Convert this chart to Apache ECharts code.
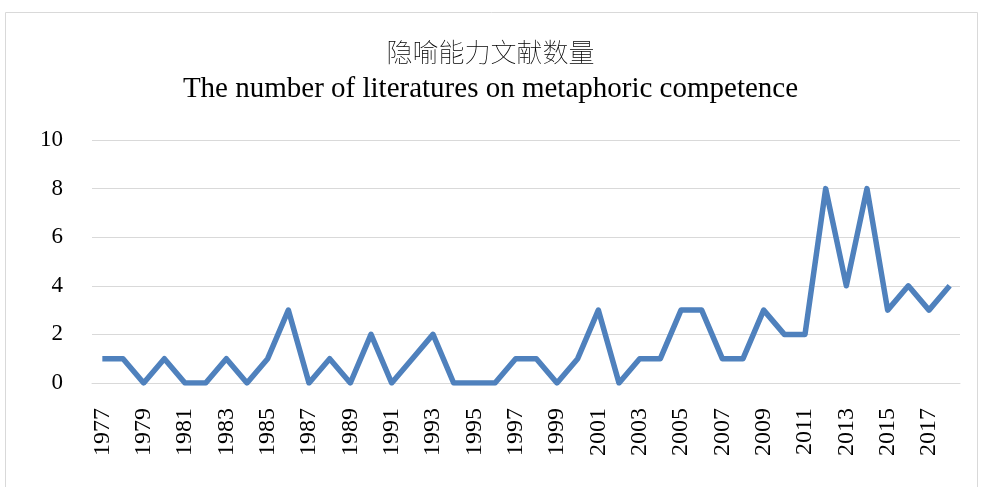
<!DOCTYPE html>
<html>
<head>
<meta charset="utf-8">
<script src="https://cdn.jsdelivr.net/npm/echarts@6/dist/echarts.min.js"></script>
<style>
  html, body { margin: 0; padding: 0; background: #fff; }
  #chart { width: 981px; height: 487px; }
</style>
</head>
<body>
<div id="chart"></div>
<script>
const years = [
    '1977', '1978', '1979', '1980', '1981', '1982', '1983', '1984', '1985', '1986',
    '1987', '1988', '1989', '1990', '1991', '1992', '1993', '1994', '1995', '1996',
    '1997', '1998', '1999', '2000', '2001', '2002', '2003', '2004', '2005', '2006',
    '2007', '2008', '2009', '2010', '2011', '2012', '2013', '2014', '2015', '2016',
    '2017', '2018'
];
const counts = [
    1, 1, 0, 1, 0, 0, 1, 0, 1, 3,
    0, 1, 0, 2, 0, 1, 2, 0, 0, 0,
    1, 1, 0, 1, 3, 0, 1, 1, 3, 3,
    1, 1, 3, 2, 2, 8, 4, 8, 3, 4,
    3, 4
];
const titleZh = '隐喻能力文献数量';
const titleEn = 'The number of literatures on metaphoric competence';

const serif = '"Liberation Serif", "Times New Roman", serif';

const chart = echarts.init(document.getElementById('chart'));

chart.setOption({
    animation: false,
    backgroundColor: '#fff',
    graphic: [
        {
            type: 'rect',
            shape: { x: 5.5, y: 12.5, width: 972, height: 500 },
            style: { fill: 'none', stroke: '#d9d9d9', lineWidth: 1 },
            silent: true,
        },
    ],
    title: [
        {
            text: titleZh,
            left: 'center',
            top: 34,
            textStyle: {
                fontFamily: '"Noto Sans CJK SC", sans-serif',
                fontWeight: 'lighter',
                fontSize: 26,
                color: '#000',
            },
        },
        {
            text: titleEn,
            left: 'center',
            top: 70,
            textStyle: {
                fontFamily: serif,
                fontWeight: 'normal',
                fontSize: 29,
                color: '#000',
            },
        },
    ],
    grid: {
        left: 92,
        right: 21,
        top: 140,
        bottom: 104,
    },
    xAxis: {
        type: 'category',
        data: years,
        boundaryGap: true,
        axisLine: { lineStyle: { color: '#d9d9d9', width: 1 } },
        axisTick: { show: false },
        axisLabel: {
            interval: 1,
            rotate: 90,
            margin: 25,
            fontFamily: serif,
            fontSize: 24,
            color: '#000',
        },
    },
    yAxis: {
        type: 'value',
        min: 0,
        max: 10,
        interval: 2,
        axisLine: { show: false },
        axisTick: { show: false },
        axisLabel: {
            margin: 29,
            fontFamily: serif,
            fontSize: 23,
            color: '#000',
        },
        splitLine: { lineStyle: { color: '#d9d9d9', width: 1 } },
    },
    series: [
        {
            type: 'line',
            data: counts,
            symbol: 'none',
            lineStyle: { color: '#4f81bd', width: 5.5, join: 'round' },
        },
    ],
});
</script>
</body>
</html>
